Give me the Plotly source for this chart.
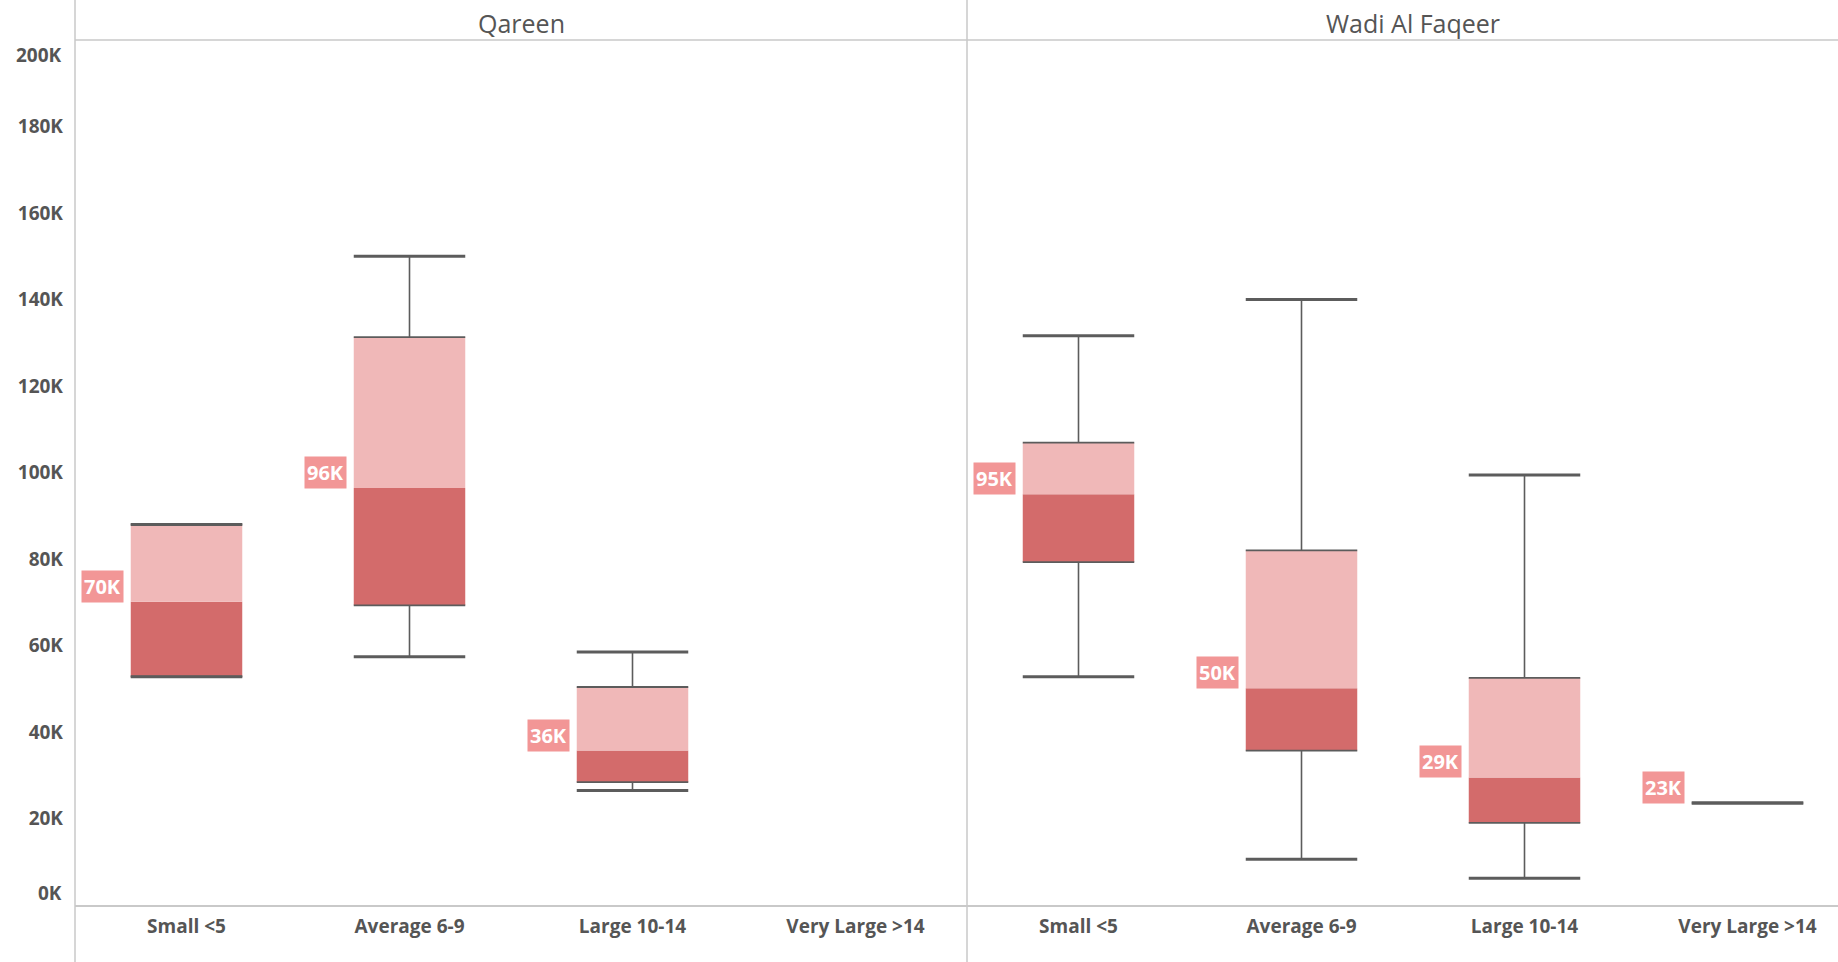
import plotly.graph_objects as go

regions = ["Qareen", "Wadi Al Faqeer"]
categories = ["Small <5", "Average 6-9", "Large 10-14", "Very Large >14"]

# values in thousands
qareen_lower = [52.8, 57.4, 26.5, None]
qareen_q1 = [52.8, 69.3, 28.4, None]
qareen_median = [70.1, 96.4, 35.7, None]
qareen_q3 = [88.0, 131.3, 50.4, None]
qareen_upper = [88.0, 150.0, 58.5, None]
qareen_labels = ["70K", "96K", "36K", None]

wadi_lower = [52.8, 10.6, 6.2, 23.6]
wadi_q1 = [79.3, 35.7, 19.0, 23.6]
wadi_median = [95.0, 50.1, 29.5, 23.6]
wadi_q3 = [106.9, 82.0, 52.5, 23.6]
wadi_upper = [131.6, 140.0, 99.4, 23.6]
wadi_labels = ["95K", "50K", "29K", "23K"]

y_ticks = [20, 40, 60, 80, 100, 120, 140, 160, 180]

DARK = "#d36b6b"
LIGHT = "#f0b8b8"
LABEL_BG = "#f29696"
WHISK = "#5c5c5c"
GRID = "#c9c9c9"
TXT = "#555555"

BOX_W = 0.5
X_MAX = 1763 / 223.0

series = [
    (qareen_lower, qareen_q1, qareen_median, qareen_q3, qareen_upper, qareen_labels),
    (wadi_lower, wadi_q1, wadi_median, wadi_q3, wadi_upper, wadi_labels),
]

fig = go.Figure()
ann = []

bx, b_base, b_h = [], [], []
ux, u_base, u_h = [], [], []
wx, wy = [], []
ex, ey = [], []
cx, cy = [], []

for p, (lo, q1, md, q3, up, lab) in enumerate(series):
    for i in range(len(categories)):
        if md[i] is None:
            continue
        c = p * 4 + i + 0.5
        k = 1000
        bx.append(c); b_base.append(q1[i] * k); b_h.append((md[i] - q1[i]) * k)
        ux.append(c); u_base.append(md[i] * k); u_h.append((q3[i] - md[i]) * k)
        if up[i] > q3[i]:
            wx += [c, c, None]; wy += [q3[i] * k, up[i] * k, None]
        if lo[i] < q1[i]:
            wx += [c, c, None]; wy += [lo[i] * k, q1[i] * k, None]
        if q3[i] > q1[i]:
            for v in (q1[i], q3[i]):
                ex += [c - BOX_W / 2, c + BOX_W / 2, None]; ey += [v * k, v * k, None]
        for v in (lo[i], up[i]):
            cx += [c - BOX_W / 2, c + BOX_W / 2, None]; cy += [v * k, v * k, None]
        ann.append(dict(
            x=c - BOX_W / 2, y=md[i] * k, xref="x", yref="y",
            text="<b>%s</b>" % lab[i], showarrow=False,
            xanchor="right", yanchor="bottom", xshift=-7, yshift=-1,
            bgcolor=LABEL_BG, borderpad=2,
            font=dict(family="Open Sans", size=20, color="white"),
        ))

fig.add_trace(go.Bar(x=bx, base=b_base, y=b_h, width=BOX_W, marker=dict(color=DARK, line=dict(width=0)), hoverinfo="skip"))
fig.add_trace(go.Bar(x=ux, base=u_base, y=u_h, width=BOX_W, marker=dict(color=LIGHT, line=dict(width=0)), hoverinfo="skip"))
fig.add_trace(go.Scatter(x=wx, y=wy, mode="lines", line=dict(color=WHISK, width=1.6), hoverinfo="skip"))
fig.add_trace(go.Scatter(x=ex, y=ey, mode="lines", line=dict(color=WHISK, width=1.8), hoverinfo="skip"))
fig.add_trace(go.Scatter(x=cx, y=cy, mode="lines", line=dict(color=WHISK, width=3), hoverinfo="skip"))

for p, r in enumerate(regions):
    ann.append(dict(x=p * 4 + 2, y=1, xref="x", yref="paper", text=r, showarrow=False,
                    xanchor="center", yanchor="middle", yshift=17,
                    font=dict(family="Open Sans", size=25, color=TXT)))

ann.append(dict(x=0, y=0, xref="paper", yref="y", text="<b>0K</b>", showarrow=False,
                xanchor="right", yanchor="bottom", xshift=-11, yshift=-3,
                font=dict(family="Open Sans", size=19, color=TXT)))
ann.append(dict(x=0, y=200000, xref="paper", yref="y", text="<b>200K</b>", showarrow=False,
                xanchor="right", yanchor="top", xshift=-11, yshift=0,
                font=dict(family="Open Sans", size=19, color=TXT)))

plot_h = 962 - 40 - 57
shapes = [
    dict(type="line", xref="paper", yref="paper", x0=0, x1=0, y0=-57 / plot_h, y1=(962 - 40 - 6) / plot_h,
         line=dict(color=GRID, width=1.5)),
    dict(type="line", xref="paper", yref="paper", x0=4 / X_MAX, x1=4 / X_MAX, y0=-57 / plot_h, y1=(962 - 40 - 6) / plot_h,
         line=dict(color=GRID, width=1.5)),
    dict(type="line", xref="paper", yref="paper", x0=0, x1=1, y0=1, y1=1,
         line=dict(color=GRID, width=1.5)),
]

fig.update_layout(
    width=1838, height=962,
    margin=dict(l=75, r=0, t=40, b=57),
    paper_bgcolor="white", plot_bgcolor="white",
    barmode="overlay", showlegend=False,
    annotations=ann, shapes=shapes,
    xaxis=dict(range=[0, X_MAX], tickvals=[j + 0.5 for j in range(8)],
               ticktext=["<b>%s</b>" % c for c in categories * 2],
               showgrid=False, zeroline=False, showline=True, linecolor=GRID, linewidth=1.5,
               ticks="", ticklabelstandoff=3,
               tickfont=dict(family="Open Sans", size=19, color=TXT), fixedrange=True),
    yaxis=dict(range=[0, 200000], tickvals=[v * 1000 for v in y_ticks],
               ticktext=["<b>%dK</b>" % v for v in y_ticks],
               showgrid=False, zeroline=False, showline=False, ticks="",
               ticklabelstandoff=11,
               tickfont=dict(family="Open Sans", size=19, color=TXT), fixedrange=True),
)

fig.write_html("out.html", config={"displayModeBar": False},
               post_script="document.body.style.margin='0';document.body.style.overflow='hidden';")
